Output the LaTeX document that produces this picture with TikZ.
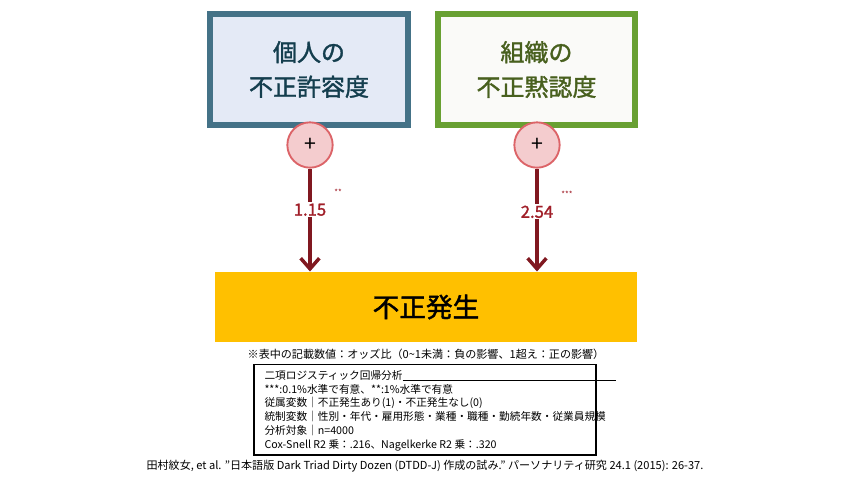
\documentclass[tikz,border=0pt]{standalone}
\usepackage{fontspec}
\setmainfont{Noto Sans CJK JP}
\newfontfamily\cjkbold{Noto Sans CJK JP}[FakeBold=1.5]
\usetikzlibrary{arrows.meta}
\definecolor{leftline}{RGB}{68,114,135}
\definecolor{leftfill}{RGB}{228,234,246}
\definecolor{lefttext}{RGB}{20,62,78}
\definecolor{rightline}{RGB}{104,160,50}
\definecolor{rightfill}{RGB}{250,250,248}
\definecolor{righttext}{RGB}{72,96,30}
\definecolor{plusfill}{RGB}{244,204,206}
\definecolor{plusline}{RGB}{220,100,104}
\definecolor{arrowred}{RGB}{128,24,32}
\definecolor{labelred}{RGB}{160,30,40}
\definecolor{eventfill}{RGB}{255,192,0}
\tikzset{every picture/.style={line width=0.75pt}}
\tikzset{
  factorbox/.style={line width=4.5pt, inner sep=0pt, align=center, font=\cjkbold\fontsize{18}{26}\selectfont},
  plusnode/.style={circle, draw=plusline, fill=plusfill, line width=1.4pt, minimum size=34pt, inner sep=0pt, font=\fontsize{16}{16}\selectfont},
  coeflabel/.style={fill=white, inner sep=1pt, text=labelred, font=\cjkbold\fontsize{12.5}{14}\selectfont},
  starlabel/.style={text=labelred, font=\fontsize{6}{6}\selectfont},
  effectarrow/.style={draw=arrowred, line width=3pt, -{Straight Barb[length=8pt,width=14pt,line width=2.6pt]}},
}
\begin{document}
\begin{tikzpicture}[x=0.75pt,y=0.75pt,yscale=-1,xscale=1]
\useasboundingbox (0,0) rectangle (846,480);

% factor boxes
\node [factorbox, draw=leftline, fill=leftfill, text=lefttext, minimum width=148pt, minimum height=83pt] (indiv) at (309,69.5) {個人の\\不正許容度};
\node [factorbox, draw=rightline, fill=rightfill, text=righttext, minimum width=148pt, minimum height=83pt] (org) at (536.5,69.5) {組織の\\不正黙認度};

% outcome
\node [fill=eventfill, minimum width=316.5pt, minimum height=52.5pt, font=\cjkbold\fontsize{20}{24}\selectfont] (event) at (426,307) {不正発生};

% plus circles
\node [plusnode] (plusA) at (310,145) {+};
\node [plusnode] (plusB) at (537,145) {+};

% arrows
\draw [effectarrow] (plusA) -- (plusA |- event.north) node [coeflabel, pos=0.4] (coefA) {1.15};
\draw [effectarrow] (plusB) -- (plusB |- event.north) node [coeflabel, pos=0.42] (coefB) {2.54};
\node [starlabel, anchor=south west] (starA) at (coefA.north east) {**};
\node [starlabel, anchor=south west] (starB) at (coefB.north east) {***};

% notes
\node [font=\fontsize{8.3}{10}\selectfont] (note) at (426,354) {※表中の記載数値：オッズ比（0\textasciitilde1未満：負の影響、1超え：正の影響）};
\node [draw, line width=1pt, minimum width=256.5pt, minimum height=68pt, inner sep=0pt] (stats) at (425,409.5) {};
\node [anchor=north west, align=left, inner sep=0pt, font=\fontsize{8}{10.3}\selectfont] (statstext) at (264,370) {二項ロジスティック回帰分析\rule[-1pt]{160pt}{0.6pt}\\***:0.1\%水準で有意、**:1\%水準で有意\\従属変数｜不正発生あり(1)・不正発生なし(0)\\統制変数｜性別・年代・雇用形態・業種・職種・勤続年数・従業員規模\\分析対象｜n=4000\\Cox-Snell R2 乗：.216、Nagelkerke R2 乗：.320};
\node [font=\fontsize{8.3}{10}\selectfont] (cite) at (425,466) {田村紋女, et al. "日本語版 Dark Triad Dirty Dozen (DTDD-J) 作成の試み." パーソナリティ研究 24.1 (2015): 26-37.};

\end{tikzpicture}
\end{document}
